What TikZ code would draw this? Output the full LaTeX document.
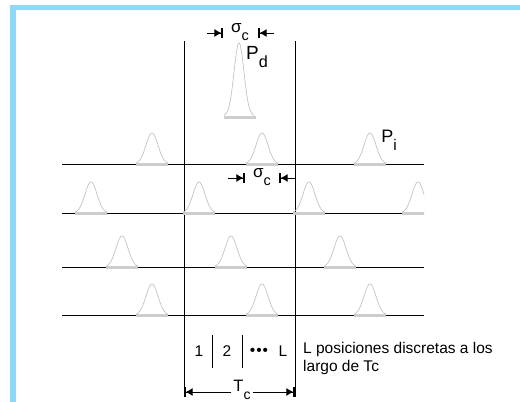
\documentclass[tikz,border=0pt]{standalone}
\usepackage{fontspec}
\setmainfont{Liberation Sans}
\usetikzlibrary{arrows.meta,positioning,calc}
\definecolor{frameblue}{HTML}{8FD8F8}
\definecolor{peakgray}{HTML}{C4C4C4}
\newcommand{\lowsub}[1]{\raisebox{-0.45em}{\scalebox{0.85}{#1}}}

\begin{document}
\begin{tikzpicture}[x=1pt, y=-1pt,
    axis/.style={line width=1pt},
    peak/.style={draw=peakgray, line width=0.7pt},
    peakbase/.style={draw=peakgray!85, line width=3pt},
    dim/.style={line width=1pt, -{Latex[length=7pt,width=8pt]Bar[width=10pt,line width=1.6pt]}},
    lbl/.style={inner sep=0pt, font=\fontsize{15.5}{18}\selectfont}]
  \useasboundingbox (0,0) rectangle (520,402);
  \fill[white] (0,0) rectangle (520,402);
  \fill[frameblue] (10,5) rectangle (520,10);
  \fill[frameblue] (10,5) rectangle (16,402);

  % time axes
  \foreach \ry in {164,213,267,315}
    \draw[axis] (62,\ry) -- (424,\ry);
  \draw[axis] (184,41) -- (184,397);
  \draw[axis] (295,41) -- (295,397);

  % pulses
  \begin{scope}
    \clip (0,0) rectangle (424,402);
    \foreach \px/\py in {152/164, 262/164, 370/164, 91/213, 199/213, 309/213, 418/213,
                         122/267, 231/267, 340/267, 152/315, 262/315, 370/315} {
      \draw[peakbase] (\px-16,\py) -- (\px+16,\py);
      \draw[peak] plot[domain=-16:16, samples=41] ({\px+\x},{\py-31*exp(0-(\x/8.5)*(\x/8.5))});
    }
  \end{scope}
  \draw[peakbase] (224,117) -- (256,117);
  \draw[peak] plot[domain=-15:15, samples=61] ({239+\x},{116-73*exp(0-(\x/7)*(\x/7))});

  \node[lbl, font=\fontsize{19}{20}\selectfont] (pd) at (257,57) {P\lowsub{d}};
  \node[lbl, font=\fontsize{18}{20}\selectfont] (pi) at (389,140) {P\lowsub{i}};

  % chip width
  \node[lbl, font=\fontsize{17}{18}\selectfont] (sigtop) at (240,32) {σ\lowsub{c}};
  \coordinate (sigtopL) at (207,33);
  \coordinate (sigtopR) at (274,33);
  \coordinate (bartopL) at (223,33);
  \coordinate (bartopR) at (258,33);
  \draw[dim] (sigtopL) -- (bartopL);
  \draw[dim] (sigtopR) -- (bartopR);

  \node[lbl, font=\fontsize{17}{18}\selectfont] (sigmid) at (262,177) {σ\lowsub{c}};
  \coordinate (sigmidL) at (228,178);
  \coordinate (sigmidR) at (295,178);
  \coordinate (barmidL) at (245,178);
  \coordinate (barmidR) at (279,178);
  \draw[dim] (sigmidL) -- (barmidL);
  \draw[dim] (sigmidR) -- (barmidR);

  % positions inside Tc
  \draw[axis] (212,335) -- (212,368);
  \draw[axis] (242,335) -- (242,368);
  \node[lbl] (one) at (199,351) {1};
  \node[lbl] (two) at (227,351) {2};
  \node[lbl] (dots) at (259,352) {•\hspace{1pt}•\hspace{1pt}•};
  \node[lbl] (ell) at (283,351) {L};
  \node[lbl, anchor=west, align=left] (note) at (303,358) {L posiciones discretas a los\\largo de Tc};

  \node[lbl, inner sep=2pt, font=\fontsize{16.5}{18}\selectfont] (tc) at (242,390) {T\lowsub{c}};
  \coordinate (tcL) at (184,392);
  \coordinate (tcR) at (295,392);
  \draw[dim] (tc.west |- tcL) -- (tcL);
  \draw[dim] (tc.east |- tcR) -- (tcR);
\end{tikzpicture}
\end{document}
